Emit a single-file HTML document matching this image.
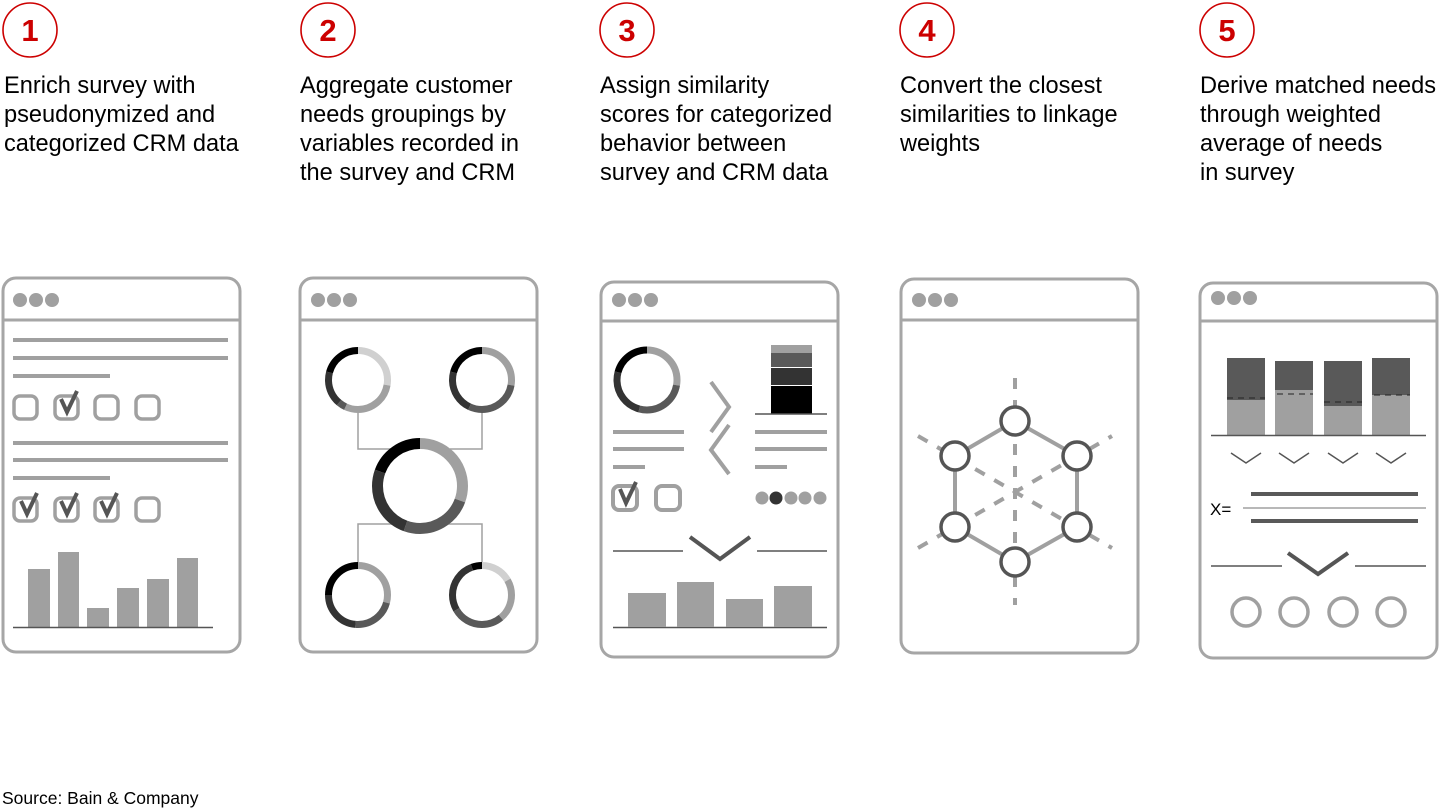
<!DOCTYPE html>
<html><head><meta charset="utf-8"><style>
html,body{margin:0;padding:0;background:#fff;}
svg{display:block;}
text{font-family:"Liberation Sans",Arial,sans-serif;}
</style></head><body>
<svg width="1440" height="810" viewBox="0 0 1440 810" xmlns="http://www.w3.org/2000/svg">
<defs>
<g id="dots"><circle cx="0" cy="0" r="7" fill="#a0a0a0"/><circle cx="16" cy="0" r="7" fill="#a0a0a0"/><circle cx="32" cy="0" r="7" fill="#a0a0a0"/></g>
</defs>
<!-- numbers -->
<g fill="none" stroke="#cc0000" stroke-width="1.6">
<circle cx="30" cy="30" r="27"/><circle cx="328" cy="30" r="27"/><circle cx="627" cy="30" r="27"/><circle cx="927" cy="30" r="27"/><circle cx="1227" cy="30" r="27"/>
</g>
<g fill="#cc0000" font-weight="bold" font-size="31" text-anchor="middle">
<text x="30" y="41">1</text><text x="328" y="41">2</text><text x="627" y="41">3</text><text x="927" y="41">4</text><text x="1227" y="41">5</text>
</g>
<g fill="#000" font-size="23.6">
<text x="4" y="93">Enrich survey with</text><text x="4" y="122">pseudonymized and</text><text x="4" y="151">categorized CRM data</text>
<text x="300" y="93">Aggregate customer</text><text x="300" y="122">needs groupings by</text><text x="300" y="151">variables recorded in</text><text x="300" y="180">the survey and CRM</text>
<text x="600" y="93">Assign similarity</text><text x="600" y="122">scores for categorized</text><text x="600" y="151">behavior between</text><text x="600" y="180">survey and CRM data</text>
<text x="900" y="93">Convert the closest</text><text x="900" y="122">similarities to linkage</text><text x="900" y="151">weights</text>
<text x="1200" y="93">Derive matched needs</text><text x="1200" y="122">through weighted</text><text x="1200" y="151">average of needs</text><text x="1200" y="180">in survey</text>
</g>
<text x="2" y="804" font-size="17.5" fill="#000">Source: Bain &amp; Company</text>

<!-- frames -->
<g fill="none" stroke="#a6a6a6" stroke-width="3">
<rect x="3" y="278" width="237" height="374" rx="13"/><line x1="3" y1="320" x2="240" y2="320"/>
<rect x="300" y="278" width="237" height="374" rx="13"/><line x1="300" y1="320" x2="537" y2="320"/>
<rect x="601" y="282" width="237" height="375" rx="13"/><line x1="601" y1="321" x2="838" y2="321"/>
<rect x="901" y="279" width="237" height="374" rx="13"/><line x1="901" y1="320" x2="1138" y2="320"/>
<rect x="1200" y="283" width="237" height="375" rx="13"/><line x1="1200" y1="321" x2="1437" y2="321"/>
</g>
<use href="#dots" x="20" y="300"/><use href="#dots" x="318" y="300"/><use href="#dots" x="619" y="300"/><use href="#dots" x="919" y="300"/><use href="#dots" x="1218" y="298"/>

<!-- Panel 1 -->
<g stroke="#a0a0a0" stroke-width="4">
<line x1="13" y1="340" x2="228" y2="340"/><line x1="13" y1="358" x2="228" y2="358"/><line x1="13" y1="376" x2="110" y2="376"/>
<line x1="13" y1="443" x2="228" y2="443"/><line x1="13" y1="460" x2="228" y2="460"/><line x1="13" y1="478" x2="110" y2="478"/>
</g>
<g fill="none" stroke="#a0a0a0" stroke-width="3.5">
<rect x="14" y="396" width="23" height="23" rx="6"/><rect x="55" y="396" width="23" height="23" rx="6"/><rect x="95" y="396" width="23" height="23" rx="6"/><rect x="136" y="396" width="23" height="23" rx="6"/>
<rect x="14" y="498" width="23" height="23" rx="6"/><rect x="55" y="498" width="23" height="23" rx="6"/><rect x="95" y="498" width="23" height="23" rx="6"/><rect x="136" y="498" width="23" height="23" rx="6"/>
</g>
<g fill="none" stroke="#555" stroke-width="4" stroke-linejoin="miter">
<polyline points="61,399 67,412 77,391"/>
<polyline points="21,501 27,514 37,493"/><polyline points="61,501 67,514 77,493"/><polyline points="101,501 107,514 117,493"/>
</g>
<g fill="#a0a0a0">
<rect x="28" y="569" width="22" height="58"/><rect x="58" y="552" width="21" height="75"/><rect x="87" y="608" width="22" height="19"/><rect x="117" y="588" width="22" height="39"/><rect x="147" y="579" width="22" height="48"/><rect x="177" y="558" width="21" height="69"/>
</g>
<line x1="13" y1="627.5" x2="213" y2="627.5" stroke="#555" stroke-width="1.5"/>

<!-- Panel 2 -->
<g fill="none" stroke="#a0a0a0" stroke-width="1.5">
<polyline points="358,413 358,449 400,449"/><polyline points="482,413 482,449 450,449"/>
<polyline points="358,562 358,524 392,524"/><polyline points="482,562 482,524 448,524"/>
</g>
<g fill="none" stroke-width="7">
<g transform="rotate(-90 358 380)">
<circle cx="358" cy="380" r="29.5" pathLength="360" stroke="#d0d0d0" stroke-dasharray="100 360"/>
<circle cx="358" cy="380" r="29.5" pathLength="360" stroke="#a0a0a0" stroke-dasharray="105 360" stroke-dashoffset="-100"/>
<circle cx="358" cy="380" r="29.5" pathLength="360" stroke="#595959" stroke-dasharray="15 360" stroke-dashoffset="-205"/>
<circle cx="358" cy="380" r="29.5" pathLength="360" stroke="#333" stroke-dasharray="65 360" stroke-dashoffset="-220"/>
<circle cx="358" cy="380" r="29.5" pathLength="360" stroke="#000" stroke-dasharray="75 360" stroke-dashoffset="-285"/>
</g>
<g transform="rotate(-90 482 380)">
<circle cx="482" cy="380" r="29.5" pathLength="360" stroke="#a0a0a0" stroke-dasharray="100 360"/>
<circle cx="482" cy="380" r="29.5" pathLength="360" stroke="#595959" stroke-dasharray="105 360" stroke-dashoffset="-100"/>
<circle cx="482" cy="380" r="29.5" pathLength="360" stroke="#333" stroke-dasharray="80 360" stroke-dashoffset="-205"/>
<circle cx="482" cy="380" r="29.5" pathLength="360" stroke="#000" stroke-dasharray="75 360" stroke-dashoffset="-285"/>
</g>
<g transform="rotate(-90 358 595)">
<circle cx="358" cy="595" r="29.5" pathLength="360" stroke="#a0a0a0" stroke-dasharray="105 360"/>
<circle cx="358" cy="595" r="29.5" pathLength="360" stroke="#595959" stroke-dasharray="80 360" stroke-dashoffset="-105"/>
<circle cx="358" cy="595" r="29.5" pathLength="360" stroke="#333" stroke-dasharray="85 360" stroke-dashoffset="-185"/>
<circle cx="358" cy="595" r="29.5" pathLength="360" stroke="#000" stroke-dasharray="90 360" stroke-dashoffset="-270"/>
</g>
<g transform="rotate(-90 482 595)">
<circle cx="482" cy="595" r="29.5" pathLength="360" stroke="#d0d0d0" stroke-dasharray="60 360"/>
<circle cx="482" cy="595" r="29.5" pathLength="360" stroke="#a0a0a0" stroke-dasharray="80 360" stroke-dashoffset="-60"/>
<circle cx="482" cy="595" r="29.5" pathLength="360" stroke="#595959" stroke-dasharray="100 360" stroke-dashoffset="-140"/>
<circle cx="482" cy="595" r="29.5" pathLength="360" stroke="#333" stroke-dasharray="100 360" stroke-dashoffset="-240"/>
<circle cx="482" cy="595" r="29.5" pathLength="360" stroke="#000" stroke-dasharray="20 360" stroke-dashoffset="-340"/>
</g>
<g transform="rotate(-90 420 486)" stroke-width="11">
<circle cx="420" cy="486" r="42.5" pathLength="360" stroke="#a0a0a0" stroke-dasharray="110 360"/>
<circle cx="420" cy="486" r="42.5" pathLength="360" stroke="#595959" stroke-dasharray="90 360" stroke-dashoffset="-110"/>
<circle cx="420" cy="486" r="42.5" pathLength="360" stroke="#333" stroke-dasharray="90 360" stroke-dashoffset="-200"/>
<circle cx="420" cy="486" r="42.5" pathLength="360" stroke="#000" stroke-dasharray="70 360" stroke-dashoffset="-290"/>
</g>
<g transform="rotate(-90 647 380)">
<circle cx="647" cy="380" r="30" pathLength="360" stroke="#a0a0a0" stroke-dasharray="100 360"/>
<circle cx="647" cy="380" r="30" pathLength="360" stroke="#595959" stroke-dasharray="95 360" stroke-dashoffset="-100"/>
<circle cx="647" cy="380" r="30" pathLength="360" stroke="#333" stroke-dasharray="90 360" stroke-dashoffset="-195"/>
<circle cx="647" cy="380" r="30" pathLength="360" stroke="#000" stroke-dasharray="75 360" stroke-dashoffset="-285"/>
</g>
</g>

<!-- Panel 3 -->
<rect x="771" y="345" width="41" height="8" fill="#a0a0a0"/>
<rect x="771" y="353" width="41" height="14" fill="#595959"/>
<rect x="771" y="368" width="41" height="17" fill="#333"/>
<rect x="771" y="386" width="41" height="28" fill="#000"/>
<line x1="755" y1="414" x2="827" y2="414" stroke="#555" stroke-width="1.5"/>
<g stroke="#a0a0a0" stroke-width="4">
<line x1="613" y1="432" x2="684" y2="432"/><line x1="613" y1="449" x2="684" y2="449"/><line x1="613" y1="467" x2="645" y2="467"/>
<line x1="755" y1="432" x2="827" y2="432"/><line x1="755" y1="449" x2="827" y2="449"/><line x1="755" y1="467" x2="787" y2="467"/>
</g>
<g fill="none" stroke="#a0a0a0" stroke-width="4">
<polyline points="711,382 729,407 711,432"/><polyline points="729,425 711,450 729,474"/>
<rect x="613" y="486" width="24" height="24" rx="6"/><rect x="656" y="486" width="24" height="24" rx="6"/>
</g>
<polyline points="620,489 626,503 636,482" fill="none" stroke="#555" stroke-width="4"/>
<g fill="#a0a0a0"><circle cx="762" cy="498" r="6.5"/><circle cx="791" cy="498" r="6.5"/><circle cx="805" cy="498" r="6.5"/><circle cx="820" cy="498" r="6.5"/></g>
<circle cx="776" cy="498" r="6.5" fill="#333"/>
<g stroke="#555" stroke-width="1.5"><line x1="613" y1="551" x2="683" y2="551"/><line x1="757" y1="551" x2="827" y2="551"/><line x1="613" y1="627.5" x2="827" y2="627.5"/></g>
<polyline points="690,537 720,559 750,537" fill="none" stroke="#555" stroke-width="4"/>
<g fill="#a0a0a0"><rect x="628" y="593" width="38" height="34"/><rect x="677" y="582" width="37" height="45"/><rect x="726" y="599" width="37" height="28"/><rect x="774" y="586" width="38" height="41"/></g>

<!-- Panel 4 -->
<g stroke="#a0a0a0" stroke-width="4" stroke-dasharray="11 11" fill="none">
<line x1="1015" y1="378" x2="1015" y2="605"/>
<line x1="918" y1="436" x2="1112" y2="548"/>
<line x1="918" y1="548" x2="1112" y2="436"/>
</g>
<polygon points="1015,421 1077,456 1077,527 1015,562 955,527 955,456" fill="none" stroke="#a0a0a0" stroke-width="4"/>
<g fill="#fff" stroke="#555" stroke-width="3.5">
<circle cx="1015" cy="421" r="14"/><circle cx="955" cy="456" r="14"/><circle cx="1077" cy="456" r="14"/><circle cx="955" cy="527" r="14"/><circle cx="1077" cy="527" r="14"/><circle cx="1015" cy="562" r="14"/>
</g>

<!-- Panel 5 -->
<g fill="#595959"><rect x="1227" y="358" width="38" height="42"/><rect x="1275" y="361" width="38" height="29"/><rect x="1324" y="361" width="38" height="45"/><rect x="1372" y="358" width="38" height="37"/></g>
<g fill="#a0a0a0"><rect x="1227" y="400" width="38" height="35"/><rect x="1275" y="390" width="38" height="45"/><rect x="1324" y="406" width="38" height="29"/><rect x="1372" y="395" width="38" height="40"/></g>
<g stroke="#222" stroke-width="1" stroke-dasharray="6 5"><line x1="1227" y1="398" x2="1265" y2="398"/><line x1="1277" y1="394" x2="1313" y2="394"/><line x1="1324" y1="402" x2="1362" y2="402"/><line x1="1374" y1="395" x2="1410" y2="395"/></g>
<line x1="1211" y1="435.5" x2="1426" y2="435.5" stroke="#555" stroke-width="1.5"/>
<g fill="none" stroke="#555" stroke-width="1.5">
<polyline points="1231,453 1246,463 1261,453"/><polyline points="1279,453 1294,463 1309,453"/><polyline points="1328,453 1343,463 1358,453"/><polyline points="1376,453 1391,463 1406,453"/>
</g>
<text x="1210" y="515" font-size="17" fill="#000">X=</text>
<g stroke="#595959"><line x1="1251" y1="494" x2="1418" y2="494" stroke-width="4"/><line x1="1243" y1="508" x2="1426" y2="508" stroke="#a0a0a0" stroke-width="1.5"/><line x1="1251" y1="521" x2="1418" y2="521" stroke-width="4"/></g>
<g stroke="#555" stroke-width="1.5"><line x1="1211" y1="566" x2="1282" y2="566"/><line x1="1355" y1="566" x2="1426" y2="566"/></g>
<polyline points="1288,553 1318,574 1348,553" fill="none" stroke="#555" stroke-width="4"/>
<g fill="none" stroke="#a0a0a0" stroke-width="3.5">
<circle cx="1246" cy="612" r="14"/><circle cx="1294" cy="612" r="14"/><circle cx="1343" cy="612" r="14"/><circle cx="1391" cy="612" r="14"/>
</g>
</svg>
</body></html>
